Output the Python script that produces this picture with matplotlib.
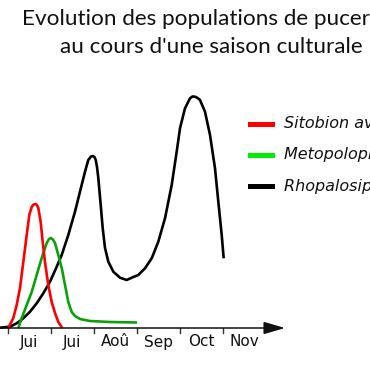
import matplotlib
matplotlib.use("Agg")
import matplotlib.pyplot as plt
from matplotlib.lines import Line2D

# ---- data (x in months from first tick, y in arbitrary population units) ----
month_labels = ["Jui", "Jui", "Aoû", "Sep", "Oct", "Nov"]

sitobion_x = [0.007, 0.123, 0.202, 0.279, 0.356, 0.435, 0.495, 0.551, 0.590, 0.628, 0.667,
              0.705, 0.760, 0.807, 0.860, 0.937, 1.016, 1.093, 1.170, 1.263]
sitobion_y = [0, 10, 23, 40, 66, 93, 113, 121, 123.3, 124, 123.3,
              120, 106, 86, 66, 43, 26, 15, 6, 0]

metopolophium_x = [0.240, 0.319, 0.435, 0.551, 0.667, 0.784, 0.900, 0.955, 1.0, 1.045,
                   1.093, 1.170, 1.249, 1.326, 1.402, 1.481, 1.558, 1.674, 1.907, 2.372, 3.0]
metopolophium_y = [0, 10, 23, 36, 53, 70, 85, 89, 90, 88.5,
                   85, 73, 60, 43, 26, 16, 12, 9, 7, 6, 5.5]

rhopalosiphum_x = [-0.186, 0.047, 0.202, 0.356, 0.512, 0.667, 0.821, 0.977, 1.133, 1.249,
                   1.402, 1.558, 1.674, 1.791, 1.867, 1.930, 1.970, 2.010, 2.040, 2.070,
                   2.100, 2.156, 2.202, 2.256, 2.333, 2.449, 2.605, 2.760, 2.877, 3.030,
                   3.186, 3.342, 3.495, 3.651, 3.807, 3.923, 4.0, 4.116, 4.233, 4.290,
                   4.349, 4.410, 4.465, 4.581, 4.698, 4.814, 4.891, 4.970, 5.016]
rhopalosiphum_y = [0.3, 1.3, 4.7, 9.7, 16.3, 24.7, 34.7, 46.3, 61.3, 73,
                   93, 116.3, 136.3, 156.3, 168, 171.5, 172, 171, 168, 161,
                   150, 123, 100, 80, 66.3, 56.3, 50.3, 48, 50.3, 53,
                   59.7, 69.7, 86.3, 109.7, 143, 176.3, 199.7, 219.7, 229.7, 231.5,
                   231.3, 230, 228, 216.3, 193, 159.7, 126.3, 93, 69.7]

species = ["Sitobion avenae", "Metopolophium dirhodum", "Rhopalosiphum padi"]
legend_colors = ["#ff0000", "#00ee00", "#000000"]
curve_colors = ["#ff0000", "#0aa00a", "#000000"]

# ---- figure ----
fig = plt.figure(figsize=(3.7, 3.7), dpi=100)
ax = fig.add_axes([0, 0, 1, 1])
px = 43.0  # pixels per month
ax.set_xlim(-8 / px, (370 - 8) / px)
ax.set_ylim(-42, 328)
ax.axis("off")

lw = 1.9
for xs, ys, c in [(rhopalosiphum_x, rhopalosiphum_y, curve_colors[2]),
                  (metopolophium_x, metopolophium_y, curve_colors[1]),
                  (sitobion_x, sitobion_y, curve_colors[0])]:
    ax.plot(xs, ys, color=c, lw=lw, solid_capstyle="butt", solid_joinstyle="round")

# x axis with arrow
ax.annotate("", xy=(277 / px, 0), xytext=(-8 / px, 0),
            arrowprops=dict(arrowstyle="-|>,head_length=0.65,head_width=0.19",
                            color="#111111", lw=1.1, mutation_scale=20,
                            shrinkA=0, shrinkB=0))
for k in range(6):
    ax.plot([k, k], [0, -5], color="#333333", lw=1.0)
    ax.text(k + 0.5, -14, month_labels[k], ha="center", va="center",
            fontsize=11, color="#111111", family="DejaVu Sans")

# title
fig.text(22 / 370, 1 - 19 / 370, "Evolution des populations de pucerons",
         ha="left", va="center", fontsize=16.2, family="Lato", color="#111111")
fig.text(60 / 370, 1 - 47 / 370, "au cours d'une saison culturale",
         ha="left", va="center", fontsize=16.2, family="Lato", color="#111111")

# legend
for i, (name, c) in enumerate(zip(species, legend_colors)):
    yy = 1 - [124, 155, 186][i] / 370
    fig.add_artist(Line2D([250 / 370, 272 / 370], [yy, yy], color=c, lw=3.6,
                          transform=fig.transFigure))
    fig.text(284 / 370, yy, name, ha="left", va="center", fontsize=11.5,
             style="italic", family="DejaVu Sans", color="#111111")

fig.savefig("out.png", dpi=100)
